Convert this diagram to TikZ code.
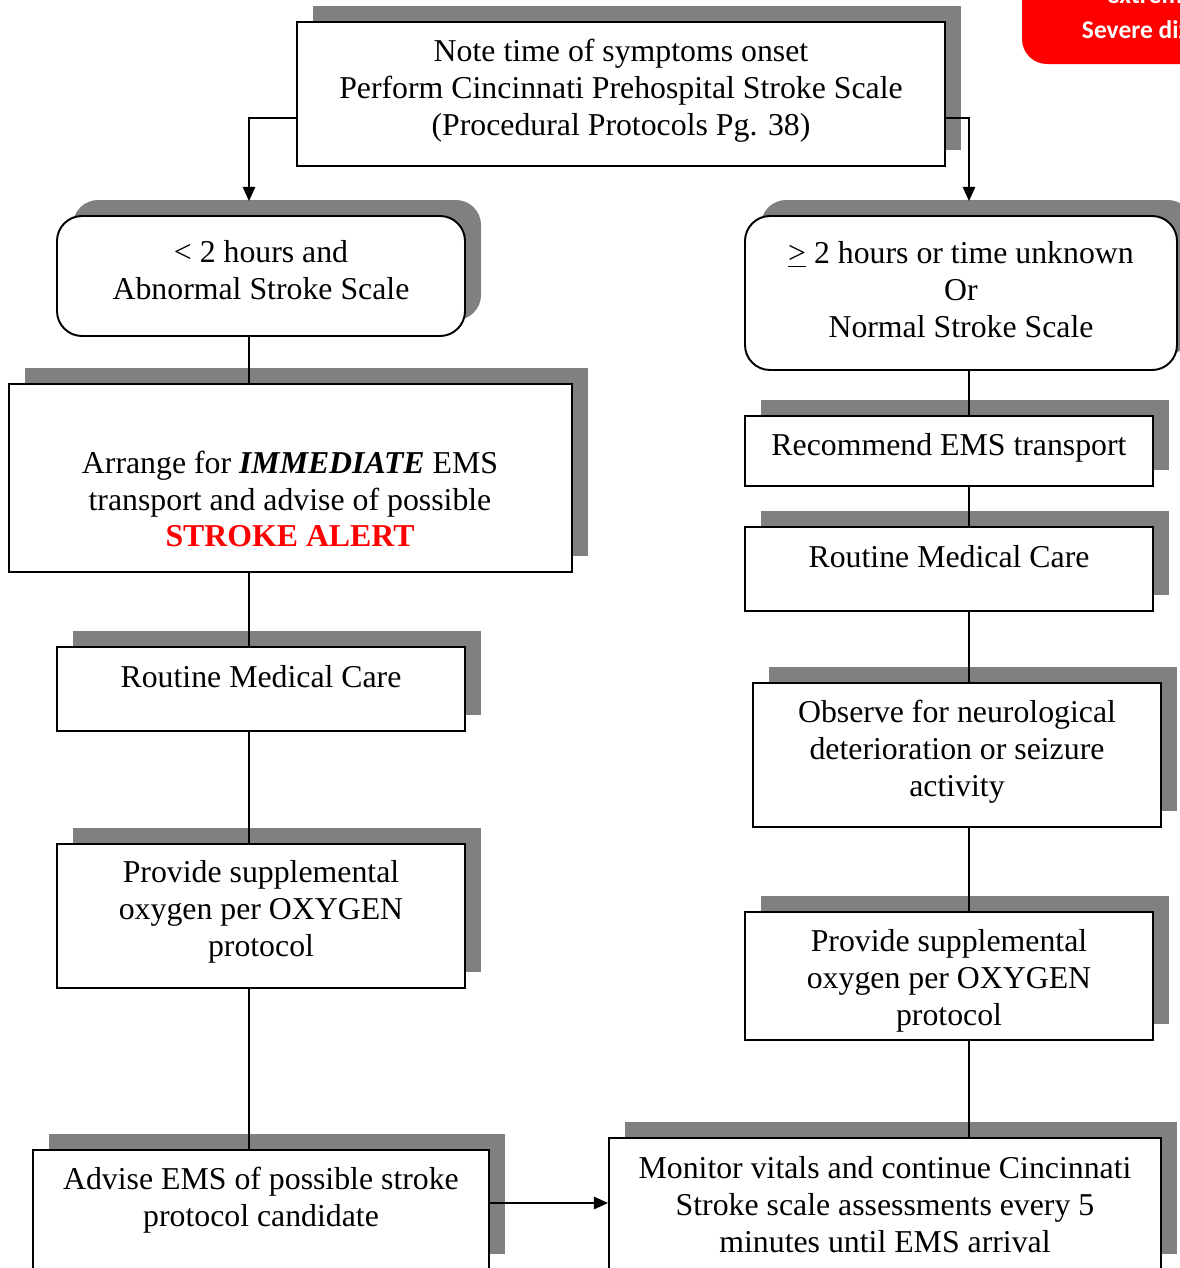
\documentclass[tikz,border=0pt]{standalone}
\usepackage{fontspec}
\setmainfont{Liberation Serif}
\newfontfamily\calfont{Carlito}
\usetikzlibrary{arrows.meta,fit,shadows}
\definecolor{shadowgray}{HTML}{808080}

\begin{document}
\begin{tikzpicture}[x=0.02cm,y=-0.02cm,line width=1.1pt,
    >={Triangle[length=8pt,width=7pt]},
    flow box/.style={draw,fill=white,inner sep=0pt,
      general shadow={fill=shadowgray,shadow xshift=0.32cm,shadow yshift=0.32cm}},
    round box/.style={flow box,rounded corners=0.5cm},
    box text/.style={align=center,font=\fontsize{18.1}{21}\selectfont},
    alert text/.style={anchor=base west,inner sep=0pt,text=white,
      font=\calfont\bfseries\fontsize{14.5}{17}\selectfont}]

    \useasboundingbox (0,0) rectangle (1180,1268);

    % red alert box, cut by the page edge
    \node[fill=red,rounded corners=0.5cm,inner sep=0pt,fit={(1022,-60) (1240,64)}] (alert) {};
    \node[alert text] (alert1) at (1106,3) {extrem};
    \node[alert text] (alert2) at (1081,38) {Severe diz};

    % boxes
    \node[flow box,fit={(297,22) (945,166)}] (onset) {};
    \node[round box,fit={(57,216) (465,336)}] (lt) {};
    \node[round box,fit={(745,216) (1177,370)}] (gt) {};

    \node[flow box,fit={(9,384) (572,572)}] (arrange) {};
    \node[flow box,fit={(57,647) (465,731)}] (rmcl) {};
    \node[flow box,fit={(57,844) (465,988)}] (oxyl) {};
    \node[flow box,fit={(33,1150) (489,1270)}] (advise) {};

    \node[flow box,fit={(745,416) (1153,486)}] (recommend) {};
    \node[flow box,fit={(745,527) (1153,611)}] (rmcr) {};
    \node[flow box,fit={(753,683) (1161,827)}] (observe) {};
    \node[flow box,fit={(745,912) (1153,1040)}] (oxyr) {};
    \node[flow box,fit={(609,1138) (1161,1270)}] (monitor) {};

    % texts
    \node[box text] at (621,91) {Note time of symptoms onset\\Perform Cincinnati Prehospital Stroke Scale\\(Procedural Protocols Pg. 38)};
    \node[box text] at (261,270) {< 2 hours and\\Abnormal Stroke Scale};
    \node[box text] at (961,290) {\underline{>} 2 hours or time unknown\\Or\\Normal Stroke Scale};
    \node[box text] at (290,499) {Arrange for \textbf{\textit{IMMEDIATE}} EMS\\transport and advise of possible\\\textcolor{red}{\textbf{STROKE ALERT}}};
    \node[box text] at (261,677) {Routine Medical Care};
    \node[box text] at (261,912) {Provide supplemental\\oxygen per OXYGEN\\protocol};
    \node[box text] at (261,1200) {Advise EMS of possible stroke\\protocol candidate};
    \node[box text] at (949,448) {Recommend EMS transport};
    \node[box text] at (949,557) {Routine Medical Care};
    \node[box text] at (957,752) {Observe for neurological\\deterioration or seizure\\activity};
    \node[box text] at (949,981) {Provide supplemental\\oxygen per OXYGEN\\protocol};
    \node[box text] at (885,1205) {Monitor vitals and continue Cincinnati\\Stroke scale assessments every 5\\minutes until EMS arrival};

    % spines
    \coordinate (lspine) at (249,0);
    \coordinate (rspine) at (969,0);
    \coordinate (advmid) at (0,1203);

    \draw[->,shorten >=0.28cm] ([yshift=-0.48cm]onset.west) -| ([xshift=-0.24cm]lt.north);
    \draw[->,shorten >=0.28cm] ([yshift=-0.48cm]onset.east) -| ([xshift=0.16cm]gt.north);

    \draw (lt.south -| lspine) -- (arrange.north -| lspine);
    \draw (arrange.south -| lspine) -- (rmcl.north -| lspine);
    \draw (rmcl.south -| lspine) -- (oxyl.north -| lspine);
    \draw (oxyl.south -| lspine) -- (advise.north -| lspine);

    \draw (gt.south -| rspine) -- (recommend.north -| rspine);
    \draw (recommend.south -| rspine) -- (rmcr.north -| rspine);
    \draw (rmcr.south -| rspine) -- (observe.north -| rspine);
    \draw (observe.south -| rspine) -- (oxyr.north -| rspine);
    \draw (oxyr.south -| rspine) -- (monitor.north -| rspine);

    \draw[->] (advise.east |- advmid) -- (monitor.west |- advmid);
\end{tikzpicture}
\end{document}
